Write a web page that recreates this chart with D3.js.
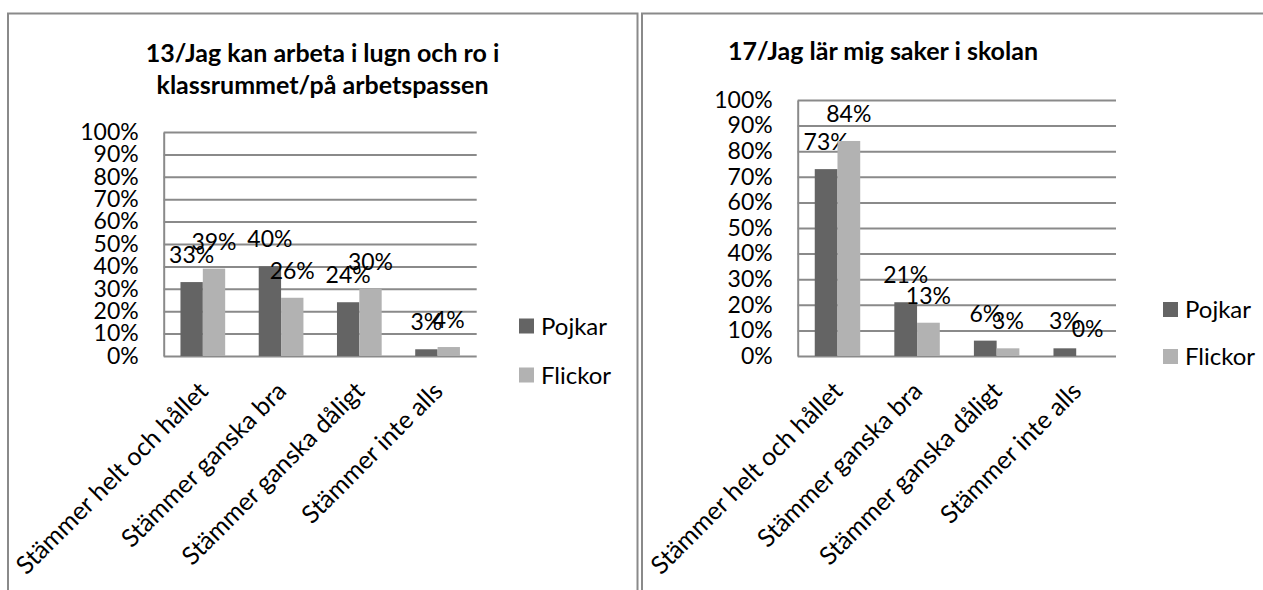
<!DOCTYPE html>
<html>
<head>
<meta charset="utf-8">
<script src="https://cdn.jsdelivr.net/npm/d3@7"></script>
<style>
    body { margin: 0; background: #fff; }
    svg { display: block; font-family: Lato, sans-serif; }
    .grid line, .grid path { stroke: #8a8a8a; stroke-width: 2; }
</style>
</head>
<body>
<div id="charts"></div>
<script>
'use strict';

const categories = ['Stämmer helt och hållet', 'Stämmer ganska bra', 'Stämmer ganska dåligt', 'Stämmer inte alls'];
const seriesNames = ['Pojkar', 'Flickor'];
const seriesColors = ['#646464', '#b2b2b2'];
const yTicks = [0, 0.1, 0.2, 0.3, 0.4, 0.5, 0.6, 0.7, 0.8, 0.9, 1];

const q13Title = ['13/Jag kan arbeta i lugn och ro i', 'klassrummet/på arbetspassen'];
const q13Pojkar = [0.33, 0.40, 0.24, 0.03];
const q13Flickor = [0.39, 0.26, 0.30, 0.04];

const q17Title = ['17/Jag lär mig saker i skolan'];
const q17Pojkar = [0.73, 0.21, 0.06, 0.03];
const q17Flickor = [0.84, 0.13, 0.03, 0.00];

const pct = d3.format('.0%');

class BarChart {

    constructor (svg)
    {
        // every chart lives in its own group so selections don't leak
        this.svg = svg.append('g');
        this.fontSize = 23;
    }

    setBox (x, y, w, h)
    {
        this.box = {x: x, y: y, w: w, h: h};
        return this;
    }

    setPlot (left, right, top, bottom)
    {
        this.plot = {left: left, right: right, top: top, bottom: bottom};
        return this;
    }

    setTitle (lines, x, y, anchor)
    {
        this.title = {lines: lines, x: x, y: y, anchor: anchor};
        return this;
    }

    setLegend (x, y, gap)
    {
        this.legendPos = {x: x, y: y, gap: gap};
        return this;
    }

    setData (values)
    {
        // values[s][c] -> series s, category c
        this.data = values;
        return this;
    }

    drawBox ()
    {
        this.svg.append('rect')
            .attr('x', this.box.x)
            .attr('y', this.box.y)
            .attr('width', this.box.w)
            .attr('height', this.box.h)
            .attr('fill', 'none')
            .attr('stroke', '#8a8a8a')
            .attr('stroke-width', 2);
    }

    drawTitle ()
    {
        let t = this.svg.append('text')
            .attr('x', this.title.x)
            .attr('y', this.title.y)
            .attr('text-anchor', this.title.anchor)
            .attr('font-weight', 'bold')
            .attr('font-size', 25)
            .attr('fill', '#000');
        t.selectAll('tspan')
            .data(this.title.lines)
            .enter()
            .append('tspan')
            .attr('x', this.title.x)
            .attr('dy', (d, i) => i ? 32 : 0)
            .text(d => d);
    }

    buildScales ()
    {
        this.x0 = d3.scaleBand()
            .domain(categories)
            .range([this.plot.left, this.plot.right]);
        this.x1 = d3.scaleBand()
            .domain(seriesNames)
            .range([0, this.x0.bandwidth()])
            .paddingOuter(0.75);
        this.y = d3.scaleLinear()
            .domain([0, 1])
            .range([this.plot.bottom, this.plot.top]);
    }

    drawAxes ()
    {
        let yAxis = d3.axisLeft(this.y)
            .tickValues(yTicks)
            .tickFormat(pct)
            .tickSize(-(this.plot.right - this.plot.left))
            .tickSizeOuter(0)
            .tickPadding(25);

        let yg = this.svg.append('g')
            .attr('class', 'grid')
            .attr('transform', 'translate(' + this.plot.left + ',0)')
            .call(yAxis);
        yg.selectAll('text')
            .attr('font-size', this.fontSize)
            .attr('font-family', 'Lato, sans-serif')
            .attr('fill', '#000');

        let xAxis = d3.axisBottom(this.x0)
            .tickSize(0)
            .tickSizeOuter(0)
            .tickPadding(0);

        let xg = this.svg.append('g')
            .attr('transform', 'translate(0,' + this.plot.bottom + ')')
            .call(xAxis);
        xg.select('.domain').remove();
        xg.selectAll('text')
            .attr('font-size', 25)
            .attr('font-family', 'Lato, sans-serif')
            .attr('fill', '#000')
            .attr('text-anchor', 'end')
            .attr('y', 0)
            .attr('dy', '0.72em')
            .attr('transform', 'translate(-6,24) rotate(-45)');
    }

    drawBars ()
    {
        let groups = this.svg.selectAll('.series')
            .data(this.data)
            .enter()
            .append('g')
            .attr('class', 'series')
            .attr('fill', (d, i) => seriesColors[i]);

        let cells = (d, i) => d.map((v, c) => ({v: v, c: categories[c], s: seriesNames[i]}));

        groups.selectAll('rect')
            .data(cells)
            .enter()
            .append('rect')
            .attr('x', d => this.x0(d.c) + this.x1(d.s))
            .attr('y', d => this.y(d.v))
            .attr('width', this.x1.bandwidth())
            .attr('height', d => this.plot.bottom - this.y(d.v));

        groups.selectAll('text')
            .data(cells)
            .enter()
            .append('text')
            .attr('x', d => this.x0(d.c) + this.x1(d.s) + this.x1.bandwidth() / 2)
            .attr('y', d => this.y(d.v) - 19)
            .attr('text-anchor', 'middle')
            .attr('font-size', this.fontSize)
            .attr('fill', '#000')
            .text(d => pct(d.v));
    }

    drawLegend ()
    {
        let p = this.legendPos;
        let items = this.svg.selectAll('.legend')
            .data(seriesNames)
            .enter()
            .append('g')
            .attr('class', 'legend')
            .attr('transform', (d, i) => 'translate(' + p.x + ',' + (p.y + p.gap * i) + ')');
        items.append('rect')
            .attr('x', 0)
            .attr('y', -7.5)
            .attr('width', 15)
            .attr('height', 15)
            .attr('fill', (d, i) => seriesColors[i]);
        items.append('text')
            .attr('x', 22)
            .attr('y', 0)
            .attr('dy', '0.36em')
            .attr('font-size', this.fontSize + 1)
            .attr('fill', '#000')
            .text(d => d);
    }

    build ()
    {
        this.drawBox();
        this.drawTitle();
        this.buildScales();
        this.drawAxes();
        this.drawBars();
        this.drawLegend();
        return this;
    }
}

let svg = d3.select('#charts').append('svg')
    .attr('width', 1263)
    .attr('height', 590);

new BarChart(svg)
    .setBox(8, 13.5, 629.5, 620)
    .setPlot(163.7, 476.7, 132, 356)
    .setTitle(q13Title, 322.5, 62, 'middle')
    .setLegend(519, 326, 49)
    .setData([q13Pojkar, q13Flickor])
    .build();

new BarChart(svg)
    .setBox(642, 13.5, 660, 620)
    .setPlot(797.7, 1116, 100, 356)
    .setTitle(q17Title, 728, 60, 'start')
    .setLegend(1163, 309.5, 47)
    .setData([q17Pojkar, q17Flickor])
    .build();
</script>
</body>
</html>
